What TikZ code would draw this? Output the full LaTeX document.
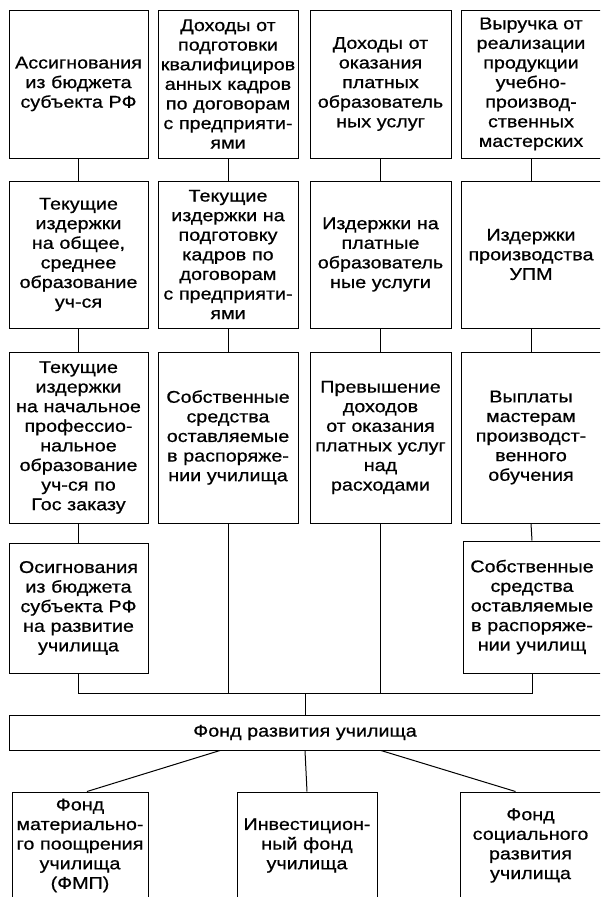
\documentclass[tikz,border=0pt]{standalone}
\usepackage{fontspec}
\setmainfont{Liberation Sans}[FakeStretch=1.16,FakeBold=0.7]

\begin{document}
\begin{tikzpicture}[x=1pt,y=-1pt,line width=1pt,
    box/.style={draw,inner sep=0pt,align=center,
      font=\fontsize{17}{19.6}\selectfont,
      minimum width=#1,text width=#1},
    box/.default=140pt]
    \useasboundingbox (0,0) rectangle (600,897);
    \clip (0,0) rectangle (600,897);
    % row 1
    \node[box=139pt,minimum height=148pt] (r1c1) at (78.5,84) {Ассигнования\\из бюджета\\субъекта РФ};
    \node[box,minimum height=148pt] (r1c2) at (228,84) {Доходы от\\подготовки\\квалифициров\\анных кадров\\по договорам\\с предприяти-\\ями};
    \node[box=141pt,minimum height=148pt] (r1c3) at (380.5,84) {Доходы от\\оказания\\платных\\образователь\\ных услуг};
    \node[box,minimum height=148pt] (r1c4) at (531,84) {Выручка от\\реализации\\продукции\\учебно-\\производ-\\ственных\\мастерских};
    % row 2
    \node[box=139pt,minimum height=147pt] (r2c1) at (78.5,254.5) {Текущие\\издержки\\на общее,\\среднее\\образование\\уч-ся};
    \node[box,minimum height=147pt] (r2c2) at (228,254.5) {Текущие\\издержки на\\подготовку\\кадров по\\договорам\\с предприяти-\\ями};
    \node[box=141pt,minimum height=147pt] (r2c3) at (380.5,254.5) {Издержки на\\платные\\образователь\\ные услуги};
    \node[box,minimum height=147pt] (r2c4) at (531,254.5) {Издержки\\производства\\УПМ};
    % row 3
    \node[box=139pt,minimum height=171pt] (r3c1) at (78.5,437.5) {Текущие\\издержки\\на начальное\\профессио-\\нальное\\образование\\уч-ся по\\Гос заказу};
    \node[box,minimum height=171pt] (r3c2) at (228,437.5) {Собственные\\средства\\оставляемые\\в распоряже-\\нии училища};
    \node[box=141pt,minimum height=171pt] (r3c3) at (380.5,437.5) {Превышение\\доходов\\от оказания\\платных услуг\\над\\расходами};
    \node[box,minimum height=171pt] (r3c4) at (531,437.5) {Выплаты\\мастерам\\производст-\\венного\\обучения};
    % row 4
    \node[box=139pt,minimum height=130pt] (r4c1) at (78.5,608) {Осигнования\\из бюджета\\субъекта РФ\\на развитие\\училища};
    \node[box=138pt,minimum height=132pt] (r4c4) at (532,607) {Собственные\\средства\\оставляемые\\в распоряже-\\нии училищ};
    % fund and its parts
    \node[box=592pt,minimum height=35pt] (fund) at (305,732.5) {Фонд развития училища};
    \node[box=136pt,minimum height=107pt] (f1) at (80,845.5) {Фонд\\материально-\\го поощрения\\училища\\(ФМП)};
    \node[box,minimum height=107pt] (f2) at (307,845.5) {Инвестицион-\\ный фонд\\училища};
    \node[box=141pt,minimum height=107pt] (f3) at (530.5,845.5) {Фонд\\социального\\развития\\училища};

    \foreach \c in {1,2,3,4}{
      \draw (r1c\c.south) -- (r2c\c.north);
      \draw (r2c\c.south) -- (r3c\c.north);
    }
    \draw (r3c1.south) -- (r4c1.north);
    \draw (r3c4.south) -- (r4c4.north);

    \coordinate (bus) at (fund.north |- 0,693);
    \draw (r4c1.south) -- (r4c1.south |- bus) -- (r4c4.south |- bus) -- (r4c4.south);
    \draw (r3c2.south) -- (r3c2.south |- bus);
    \draw (r3c3.south) -- (r3c3.south |- bus);
    \draw (bus) -- (fund.north);

    \draw ([xshift=-85pt]fund.south) -- ([xshift=7pt]f1.north);
    \draw (fund.south) -- (f2.north);
    \draw ([xshift=76pt]fund.south) -- ([xshift=-15pt]f3.north);
  \end{tikzpicture}
\end{document}
